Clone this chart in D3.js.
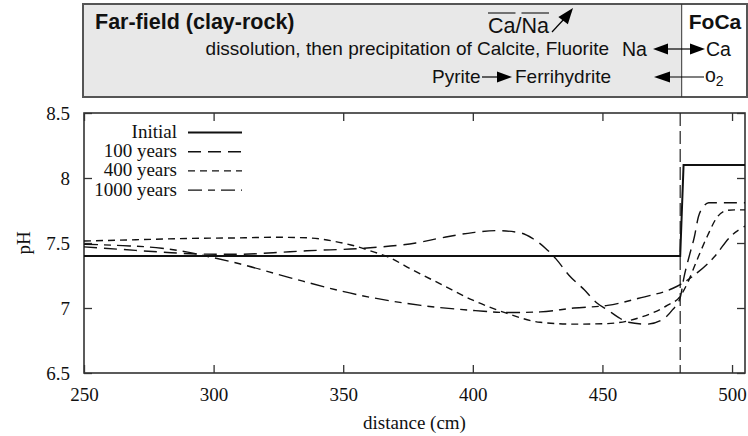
<!DOCTYPE html>
<html><head><meta charset="utf-8">
<script src="https://cdn.jsdelivr.net/npm/d3@7"></script>
<style>
html,body{margin:0;padding:0;background:#fff;}
svg{display:block;}
</style>
</head><body>
<svg id="chart" width="748" height="436"></svg>
<script>
// ---------- data ----------
const xTicks = [250, 300, 350, 400, 450, 500];
const yTicks = [6.5, 7, 7.5, 8, 8.5];
const seriesNames = ["Initial", "100 years", "400 years", "1000 years"];

const xInitial = [250, 480, 481.3, 505];
const yInitial = [7.4, 7.4, 8.1, 8.1];

const x100 = [250, 265, 280, 295, 310, 323, 336, 358, 378, 388, 400, 409, 418, 423, 428, 432, 437, 443, 448, 452, 456, 460, 467, 473, 477, 480, 481.5, 483.5, 485.5, 487, 489, 491, 495, 505];
const y100 = [7.47, 7.45, 7.43, 7.415, 7.413, 7.425, 7.44, 7.46, 7.50, 7.54, 7.58, 7.595, 7.58, 7.536, 7.46, 7.38, 7.254, 7.14, 7.036, 6.985, 6.93, 6.89, 6.876, 6.91, 6.985, 7.08, 7.24, 7.40, 7.55, 7.70, 7.78, 7.81, 7.81, 7.81];

const x400 = [250, 270, 290, 312, 323, 336, 346, 353, 362, 367, 377, 388, 400, 413, 426, 439, 452, 465, 475, 480, 483, 486.5, 490.4, 494.3, 498, 501, 505];
const y400 = [7.515, 7.525, 7.535, 7.54, 7.544, 7.54, 7.515, 7.485, 7.43, 7.395, 7.29, 7.18, 7.06, 6.96, 6.89, 6.876, 6.88, 6.93, 7.02, 7.09, 7.2, 7.37, 7.55, 7.70, 7.75, 7.755, 7.755];

const x1000 = [250, 265, 280, 290, 297, 310, 330, 356, 380, 401, 413, 426, 439, 452, 465, 477, 480, 486.5, 493, 499.4, 505];
const y1000 = [7.49, 7.48, 7.46, 7.43, 7.40, 7.34, 7.23, 7.10, 7.02, 6.98, 6.965, 6.97, 7.0, 7.02, 7.08, 7.15, 7.18, 7.27, 7.39, 7.55, 7.63];

const interfaceX = 480;

// ---------- layout ----------
const svg = d3.select("#chart");
const L = 84, R = 745, T = 113, B = 373;
const x = d3.scaleLinear().domain([250, 505]).range([L, R]);
const y = d3.scaleLinear().domain([6.5, 8.5]).range([B, T]);
const serif = "'Liberation Serif','Times New Roman',serif";
const sans = "'Liberation Sans',Arial,Helvetica,sans-serif";

// ---------- header box ----------
const hb = svg.append("g");
const boxL = 83, boxR = 747, boxT = 4, boxB = 97, divX = x(interfaceX) + 1.5;
hb.append("rect").attr("x", boxL).attr("y", boxT).attr("width", divX - boxL).attr("height", boxB - boxT).attr("fill", "#e8e8e8");
hb.append("rect").attr("x", divX).attr("y", boxT).attr("width", boxR - divX).attr("height", boxB - boxT).attr("fill", "#fff");
hb.append("rect").attr("x", boxL).attr("y", boxT).attr("width", boxR - boxL).attr("height", boxB - boxT)
  .attr("fill", "none").attr("stroke", "#555").attr("stroke-width", 2);
hb.append("line").attr("x1", divX).attr("x2", divX).attr("y1", boxT).attr("y2", boxB).attr("stroke", "#333").attr("stroke-width", 1);

function txt(s, xx, yy, size, opts = {}) {
  return hb.append("text").attr("x", xx).attr("y", yy).attr("font-family", sans).attr("font-size", size)
    .attr("font-weight", opts.bold ? "bold" : "normal").attr("text-anchor", opts.anchor || "start").attr("fill", "#111").text(s);
}
function arrowHead(tx, ty, angle, len = 15, half = 5.5) {
  const a = angle * Math.PI / 180;
  const bx = tx - len * Math.cos(a), by = ty - len * Math.sin(a);
  const px = -Math.sin(a) * half, py = Math.cos(a) * half;
  hb.append("path").attr("d", `M${tx},${ty}L${bx + px},${by + py}L${bx - px},${by - py}Z`).attr("fill", "#000");
}
function shaft(x1, y1, x2, y2) {
  hb.append("line").attr("x1", x1).attr("y1", y1).attr("x2", x2).attr("y2", y2).attr("stroke", "#000").attr("stroke-width", 1.2);
}

txt("Far-field (clay-rock)", 95, 29, 21.5, { bold: true });
txt("FoCa", 715, 29, 21, { bold: true, anchor: "middle" });

// Ca/Na with overlines
const caX = 488;
const cana = txt("Ca/Na", caX, 33, 21.5);
const cn = cana.node();
const w1 = cn.getSubStringLength(0, 2), wSlash = cn.getSubStringLength(2, 1), w2 = cn.getSubStringLength(3, 2);
const olY = 13;
hb.append("line").attr("x1", caX).attr("x2", caX + w1).attr("y1", olY).attr("y2", olY).attr("stroke", "#111").attr("stroke-width", 1.1);
hb.append("line").attr("x1", caX + w1 + wSlash).attr("x2", caX + w1 + wSlash + w2).attr("y1", olY).attr("y2", olY).attr("stroke", "#111").attr("stroke-width", 1.1);
const ax0 = caX + w1 + wSlash + w2 + 3;
shaft(ax0, 32, ax0 + 13, 18);
arrowHead(ax0 + 21, 8, -52, 16, 6);

txt("dissolution, then precipitation of Calcite, Fluorite", 609, 55, 19, { anchor: "end" });
txt("Na", 622, 56, 19.5);
shaft(666, 49, 690, 49);
arrowHead(653, 49, 180);
arrowHead(705, 49, 0);
txt("Ca", 706, 56, 19.5);

txt("Pyrite", 432, 83, 19);
shaft(482, 77, 498, 77);
arrowHead(512, 77, 0);
txt("Ferrihydrite", 515, 83, 19);
arrowHead(654, 77, 180, 16, 5.5);
shaft(667, 77, 704, 77);
const o2 = txt("o", 705, 82, 19.5);
o2.append("tspan").attr("font-size", 14).attr("dy", 4).text("2");

// ---------- plot ----------
const g = svg.append("g");
const axisCol = "#333";
const styleTicks = s => { s.select(".domain").remove(); s.selectAll("line").attr("stroke", axisCol).attr("stroke-width", 1.3); s.selectAll("text").attr("font-family", serif).attr("font-size", 19).attr("fill", "#111"); };
g.append("g").attr("transform", `translate(0,${B})`)
  .call(d3.axisBottom(x).tickValues(xTicks).tickSize(-8).tickPadding(15).tickFormat(d3.format("d")))
  .call(styleTicks);
g.append("g").attr("transform", `translate(0,${T})`)
  .call(d3.axisTop(x).tickValues(xTicks).tickSize(-8).tickFormat(""))
  .call(styleTicks);
g.append("g").attr("transform", `translate(${L},0)`)
  .call(d3.axisLeft(y).tickValues(yTicks).tickSize(-8).tickPadding(14).tickFormat(d => String(d)))
  .call(styleTicks);
g.append("g").attr("transform", `translate(${R},0)`)
  .call(d3.axisRight(y).tickValues(yTicks).tickSize(-8).tickFormat(""))
  .call(styleTicks);
g.append("rect").attr("x", L).attr("y", T).attr("width", R - L).attr("height", B - T)
  .attr("fill", "none").attr("stroke", axisCol).attr("stroke-width", 1.6);

// interface line
g.append("line").attr("x1", x(interfaceX)).attr("x2", x(interfaceX)).attr("y1", T).attr("y2", B)
  .attr("stroke", "#222").attr("stroke-width", 1.2).attr("stroke-dasharray", "13,5");

svg.append("clipPath").attr("id", "clip").append("rect").attr("x", L).attr("y", T).attr("width", R - L).attr("height", B - T);
const series = [
  { xs: xInitial, ys: yInitial, dash: null, w: 2, curve: d3.curveLinear },
  { xs: x100, ys: y100, dash: "13,7", w: 1.4, curve: d3.curveMonotoneX },
  { xs: x400, ys: y400, dash: "7,5", w: 1.4, curve: d3.curveMonotoneX },
  { xs: x1000, ys: y1000, dash: "14,6,7,6", w: 1.4, curve: d3.curveMonotoneX }
];
series.forEach(s => {
  const pts = s.xs.map((d, i) => [d, s.ys[i]]);
  g.append("path").attr("clip-path", "url(#clip)")
    .attr("d", d3.line().x(d => x(d[0])).y(d => y(d[1])).curve(s.curve)(pts))
    .attr("fill", "none").attr("stroke", "#111").attr("stroke-width", s.w)
    .attr("stroke-dasharray", s.dash);
});

// legend
const lg = g.append("g");
seriesNames.forEach((n, i) => {
  const yy = 132.5 + i * 19.2;
  lg.append("text").attr("x", 177).attr("y", yy + 5.5).attr("text-anchor", "end").attr("font-family", serif).attr("font-size", 19).attr("fill", "#111").text(n);
  lg.append("line").attr("x1", 188).attr("x2", 242).attr("y1", yy).attr("y2", yy)
    .attr("stroke", "#111").attr("stroke-width", series[i].w).attr("stroke-dasharray", series[i].dash);
});

// axis titles
g.append("text").attr("x", (L + R) / 2).attr("y", 429).attr("text-anchor", "middle").attr("font-family", serif).attr("font-size", 19).attr("fill", "#111").text("distance (cm)");
g.append("text").attr("transform", `translate(30,${(T + B) / 2}) rotate(-90)`).attr("text-anchor", "middle").attr("font-family", serif).attr("font-size", 19).attr("fill", "#111").text("pH");
</script>
</body></html>
